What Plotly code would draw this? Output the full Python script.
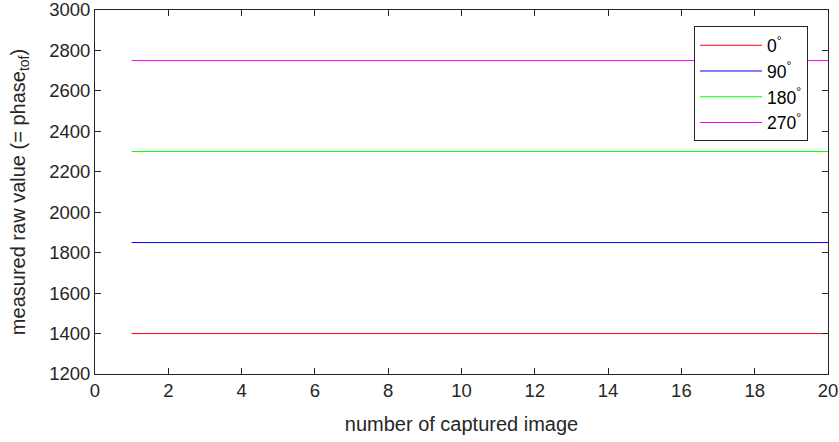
import plotly.graph_objects as go

frames = list(range(1, 21))
names = ["0<sup>°</sup>", "90<sup>°</sup>", "180<sup>°</sup>", "270<sup>°</sup>"]
levels = [1400, 1850, 2300, 2750]
colors = ["#ff0000", "#0000ff", "#00ff00", "#ff00ff"]
y_ticks = [1200, 1400, 1600, 1800, 2000, 2200, 2400, 2600, 2800, 3000]
x_ticks = [0, 2, 4, 6, 8, 10, 12, 14, 16, 18, 20]

fig = go.Figure()
for n, v, c in zip(names, levels, colors):
    fig.add_trace(go.Scatter(x=frames, y=[v] * len(frames), mode="lines",
                             name=n, line=dict(color=c, width=1)))

axcol = "#262626"
common = dict(showline=True, linecolor=axcol, linewidth=1, mirror="allticks",
              ticks="inside", ticklen=6, tickcolor=axcol, showgrid=False,
              zeroline=False, automargin=False, ticklabeloverflow="allow",
              tickfont=dict(size=18.5, color=axcol))
fig.update_xaxes(range=[0, 20], tickvals=x_ticks,
                 title=dict(text="number of captured image",
                            font=dict(size=20, color=axcol), standoff=16), **common)
fig.update_yaxes(range=[1200, 3000], tickvals=y_ticks,
                 title=dict(text="measured raw value (= phase<sub>tof</sub>)",
                            font=dict(size=20, color=axcol), standoff=18), **common)

fig.update_layout(
    width=839, height=442,
    margin=dict(l=95, r=11, t=10, b=68, autoexpand=False),
    paper_bgcolor="white", plot_bgcolor="white",
    font=dict(family="Liberation Sans, Arial, sans-serif", color=axcol),
    legend=dict(x=0.9727, y=0.955, xanchor="right", yanchor="top",
                bordercolor=axcol, borderwidth=1, bgcolor="white",
                font=dict(size=17.5, color="black"), tracegroupgap=0,
                itemwidth=62),
)
fig.write_html("out.html", config={"displayModeBar": False},
               post_script="document.body.style.margin='0';document.body.style.overflow='hidden';")
